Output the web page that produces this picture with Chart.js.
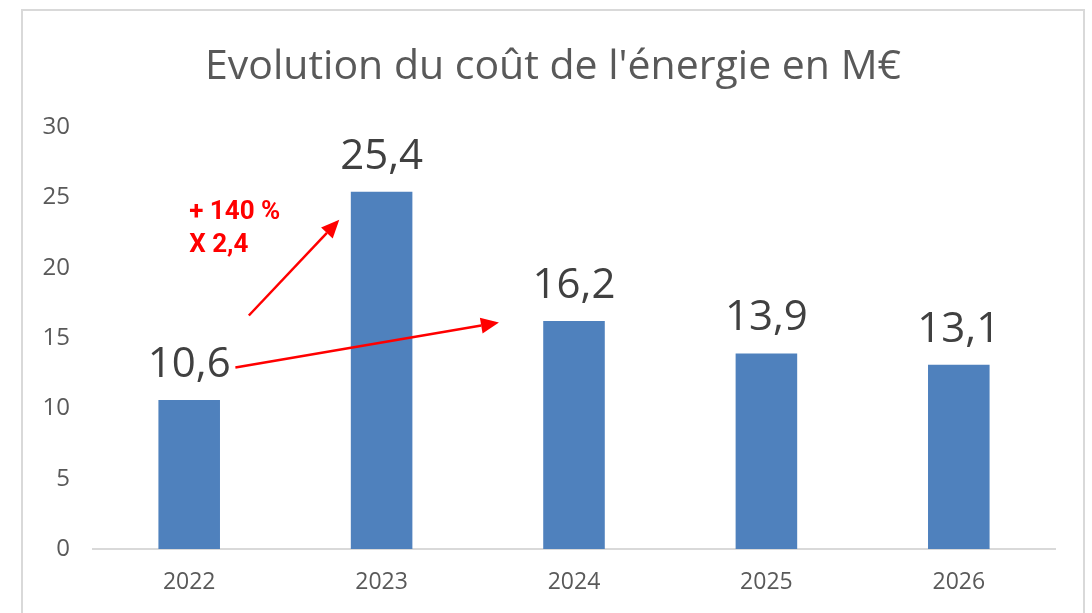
<!DOCTYPE html>
<html lang="fr">
<head>
<meta charset="utf-8">
<title>Evolution du coût de l'énergie</title>
<script src="https://cdn.jsdelivr.net/npm/chart.js@4/dist/chart.umd.min.js"></script>
<style>
    html, body { margin: 0; padding: 0; background: #fff; overflow: hidden; }
    #cadre {
        position: absolute; left: 21px; top: 9px; width: 1064px; height: 640px;
        border: 2px solid #d9d9d9; box-sizing: border-box;
    }
    #zone { position: absolute; left: 23px; top: 11px; width: 1060px; height: 602px; }
</style>
</head>
<body>
<div id="cadre"></div>
<div id="zone"><canvas id="chart-energie" width="1060" height="602"></canvas></div>
<script>
// Données
const TITRE = "Evolution du coût de l'énergie en M€";
const ANNEES = ['2022', '2023', '2024', '2025', '2026'];
const COUT_ENERGIE = [10.6, 25.4, 16.2, 13.9, 13.1];
const TICKS_Y = [0, 5, 10, 15, 20, 25, 30];

// Annotations rouges (index de catégorie, valeur)
const FLECHES = [
    { de: [0.31, 16.6], vers: [0.78, 23.4] },
    { de: [0.24, 12.9], vers: [1.61, 16.1] }
];
const TEXTES_ROUGES = [
    { texte: '+ 140 %', pos: [0.0, 23.9] },
    { texte: 'X 2,4', pos: [0.0, 21.6] }
];

const GRIS_TEXTE = '#595959';

// titre centré sur tout le cadre (le plugin title tient compte du padding)
const titrePlugin = {
    id: 'titreCadre',
    afterDraw(chart) {
        const ctx = chart.ctx;
        ctx.save();
        ctx.font = '41px "Open Sans"';
        ctx.fillStyle = GRIS_TEXTE;
        ctx.textAlign = 'center';
        ctx.textBaseline = 'middle';
        ctx.fillText(TITRE, chart.width / 2, 56);
        ctx.restore();
    }
};

const etiquettesPlugin = {
    id: 'etiquettes',
    afterDatasetsDraw(chart) {
        const ctx = chart.ctx;
        const meta = chart.getDatasetMeta(0);
        ctx.save();
        ctx.font = '42px "Open Sans"';
        ctx.fillStyle = '#404040';
        ctx.textAlign = 'center';
        ctx.textBaseline = 'alphabetic';
        meta.data.forEach((bar, i) => {
            ctx.fillText(COUT_ENERGIE[i].toLocaleString('fr-FR'), bar.x, bar.y - 23);
        });
        ctx.restore();
    }
};

function fleche(ctx, x1, y1, x2, y2) {
    const ang = Math.atan2(y2 - y1, x2 - x1);
    const lg = 18, la = 8;
    const bx = x2 - lg * Math.cos(ang), by = y2 - lg * Math.sin(ang);
    ctx.beginPath();
    ctx.moveTo(x1, y1);
    ctx.lineTo(bx, by);
    ctx.stroke();
    ctx.beginPath();
    ctx.moveTo(x2, y2);
    ctx.lineTo(bx + la * Math.sin(ang), by - la * Math.cos(ang));
    ctx.lineTo(bx - la * Math.sin(ang), by + la * Math.cos(ang));
    ctx.closePath();
    ctx.fill();
}

const annotationsPlugin = {
    id: 'annotations',
    afterDraw(chart) {
        const ctx = chart.ctx;
        const sx = chart.scales.x, sy = chart.scales.y;
        ctx.save();
        ctx.strokeStyle = '#ff0000';
        ctx.fillStyle = '#ff0000';
        ctx.lineWidth = 2.5;
        FLECHES.forEach(f => {
            fleche(ctx,
                sx.getPixelForValue(f.de[0]), sy.getPixelForValue(f.de[1]),
                sx.getPixelForValue(f.vers[0]), sy.getPixelForValue(f.vers[1]));
        });
        ctx.font = 'bold 26px Roboto';
        ctx.textAlign = 'left';
        ctx.textBaseline = 'middle';
        TEXTES_ROUGES.forEach(t => {
            ctx.fillText(t.texte, sx.getPixelForValue(t.pos[0]), sy.getPixelForValue(t.pos[1]));
        });
        ctx.restore();
    }
};

new Chart(document.getElementById('chart-energie'), {
    type: 'bar',
    data: {
        labels: ANNEES,
        datasets: [{
            data: COUT_ENERGIE,
            backgroundColor: '#4f81bd',
            barPercentage: 0.32,
            categoryPercentage: 1
        }]
    },
    options: {
        responsive: false,
        animation: false,
        layout: { padding: { left: 0, right: 28, top: 116, bottom: 0 } },
        plugins: {
            legend: { display: false },
            tooltip: { enabled: false },
            title: { display: false }
        },
        scales: {
            x: {
                grid: { display: false, drawTicks: false },
                border: { color: '#d9d9d9', width: 2 },
                ticks: { color: GRIS_TEXTE, font: { family: '"Open Sans"', size: 23 }, padding: 20 },
                afterFit: s => { s.height = 64; }
            },
            y: {
                min: 0,
                max: 30,
                afterBuildTicks: s => { s.ticks = TICKS_Y.map(v => ({ value: v })); },
                grid: { display: false, drawTicks: false },
                border: { display: false },
                ticks: { color: GRIS_TEXTE, font: { family: '"Open Sans"', size: 24 }, padding: 23 },
                afterFit: s => { s.width = 70; }
            }
        }
    },
    plugins: [titrePlugin, etiquettesPlugin, annotationsPlugin]
});
</script>
</body>
</html>
